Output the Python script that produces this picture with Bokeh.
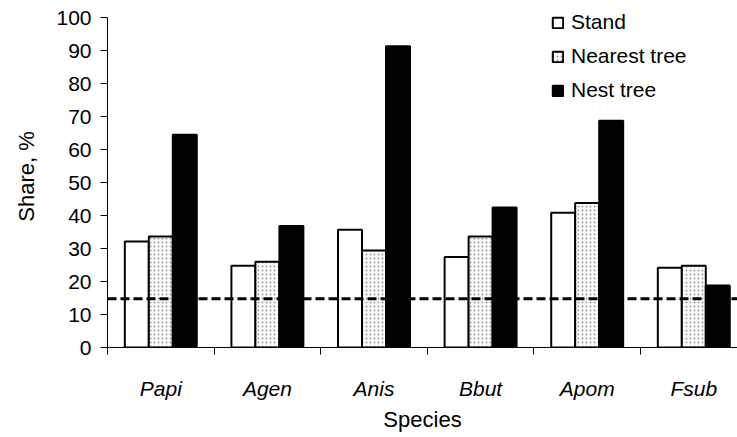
from bokeh.plotting import figure
from bokeh.models import (Range1d, FixedTicker, Span, Legend, LegendItem,
                          ColumnDataSource)
from bokeh.transform import dodge
from bokeh.embed import file_html
from bokeh.resources import INLINE

species = ["Papi", "Agen", "Anis", "Bbut", "Apom", "Fsub"]
stand = [32.1, 24.8, 35.7, 27.4, 40.8, 24.2]
nearest = [33.6, 26.0, 29.4, 33.6, 43.8, 24.8]
nest = [64.5, 36.8, 91.3, 42.4, 68.7, 18.8]
threshold = 14.8
y_ticks = list(range(0, 101, 10))

x = [i + 0.5 for i in range(len(species))]
source = ColumnDataSource(dict(x=x, stand=stand, nearest=nearest, nest=nest))

FONT = "Liberation Sans"

# frame spans 5..347 px; 100 % sits at 17 px
p = figure(width=737, height=437, x_range=Range1d(0, 5.91),
           y_range=Range1d(0, 103.64), output_backend="svg",
           toolbar_location=None, min_border_left=107, min_border_right=0,
           min_border_top=5, min_border_bottom=90)
p.outline_line_color = None
p.xgrid.visible = False
p.ygrid.visible = False

bw = 0.225
r1 = p.vbar(x=dodge('x', -bw, range=p.x_range), top='stand', width=bw,
            source=source, fill_color='white', line_color='black',
            line_width=2)
r2 = p.vbar(x='x', top='nearest', width=bw, source=source,
            fill_color='white', line_color='black', line_width=2,
            hatch_pattern='dot', hatch_color='#999999', hatch_scale=4,
            hatch_weight=1.2)
r3 = p.vbar(x=dodge('x', bw, range=p.x_range), top='nest', width=bw,
            source=source, fill_color='black', line_color='black',
            line_width=2)

p.add_layout(Span(location=threshold, dimension='width', line_color='black',
                  line_width=3, line_dash="9 4"))

# x axis
xa = p.xaxis[0]
xa.ticker = FixedTicker(ticks=x, minor_ticks=list(range(len(species) + 1)))
xa.major_label_overrides = {xi: s for xi, s in zip(x, species)}
xa.major_tick_out = 0
xa.major_tick_in = 0
xa.minor_tick_out = 7
xa.minor_tick_in = 0
xa.minor_tick_line_color = 'black'
xa.major_label_standoff = 22
xa.major_label_text_font = FONT
xa.major_label_text_font_size = "21px"
xa.major_label_text_font_style = "italic"
xa.major_label_text_color = "black"
xa.axis_label = "Species"
xa.axis_label_text_font = FONT
xa.axis_label_text_font_size = "22px"
xa.axis_label_text_font_style = "normal"
xa.axis_label_text_color = "black"
xa.axis_label_standoff = 4
xa.axis_line_color = 'black'

# y axis
ya = p.yaxis[0]
ya.ticker = FixedTicker(ticks=y_ticks, minor_ticks=[])
ya.bounds = (0, 100)
ya.major_tick_out = 7
ya.major_tick_in = 0
ya.major_tick_line_color = 'black'
ya.major_label_standoff = 9
ya.major_label_text_font = FONT
ya.major_label_text_font_size = "21px"
ya.major_label_text_color = "black"
ya.axis_label = "Share, %"
ya.axis_label_text_font = FONT
ya.axis_label_text_font_size = "22px"
ya.axis_label_text_font_style = "normal"
ya.axis_label_text_color = "black"
ya.axis_label_standoff = 14
ya.axis_line_color = 'black'

legend = Legend(items=[LegendItem(label="Stand", renderers=[r1]),
                       LegendItem(label="Nearest tree", renderers=[r2]),
                       LegendItem(label="Nest tree", renderers=[r3])],
                location=(444, 245), glyph_width=13, glyph_height=13,
                label_height=24, spacing=10, padding=0, margin=0,
                label_standoff=7, label_text_font=FONT,
                label_text_font_size="21px", label_text_color="black",
                border_line_color=None, background_fill_alpha=0)
p.add_layout(legend)

open("out.html", "w").write(file_html(p, INLINE))
